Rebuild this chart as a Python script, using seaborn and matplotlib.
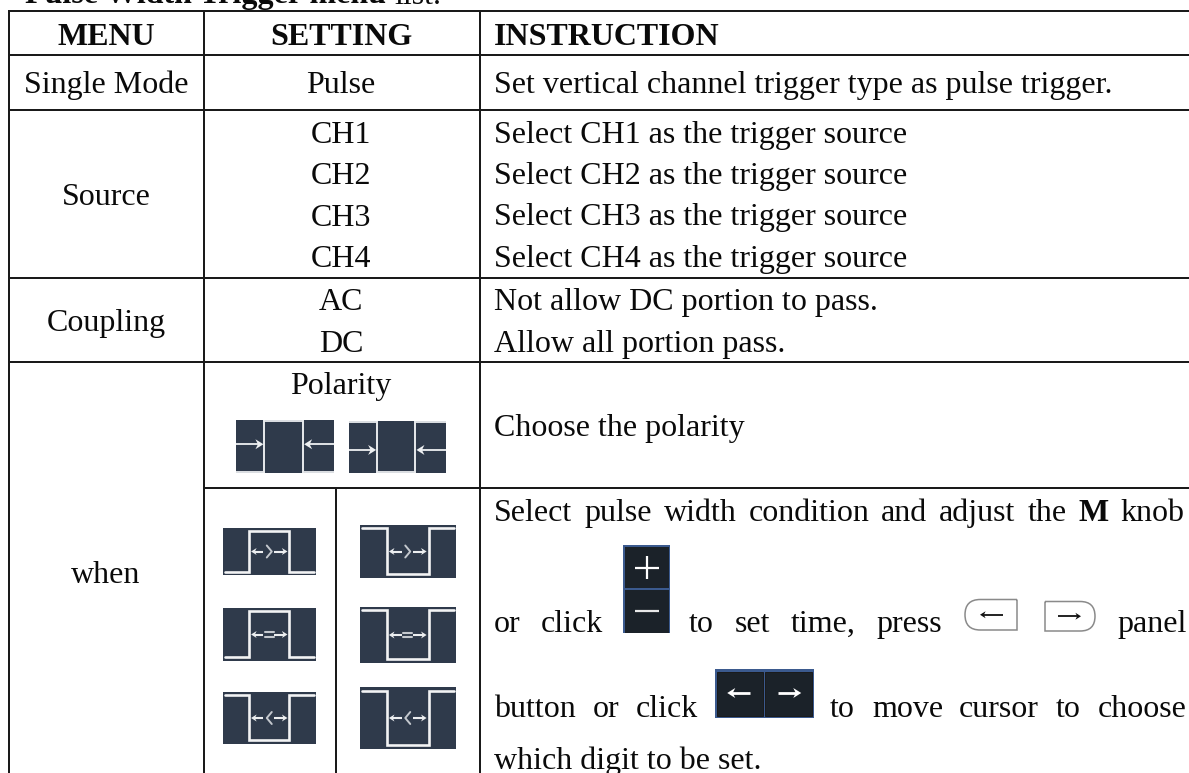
import matplotlib
matplotlib.use('Agg')
import matplotlib.pyplot as plt
import seaborn as sns
from matplotlib.patches import Rectangle, PathPatch, Polygon
from matplotlib.path import Path

# Table text
headers = ['MENU', 'SETTING', 'INSTRUCTION']
menu_items = ['Single Mode', 'Source', 'Coupling', 'when']
settings = ['Pulse', 'CH1', 'CH2', 'CH3', 'CH4', 'AC', 'DC', 'Polarity']
instructions = ['Set vertical channel trigger type as pulse trigger.',
                'Select CH1 as the trigger source',
                'Select CH2 as the trigger source',
                'Select CH3 as the trigger source',
                'Select CH4 as the trigger source',
                'Not allow DC portion to pass.',
                'Allow all portion pass.',
                'Choose the polarity']
title_bold = 'Pulse Width Trigger menu'
title_rest = 'list.'
line_select = ['Select', 'pulse', 'width', 'condition', 'and', 'adjust', 'the', 'M', 'knob']
line_click = ['or', 'click', 'to', 'set', 'time,', 'press', 'panel']
line_button = ['button', 'or', 'click', 'to', 'move', 'cursor', 'to', 'choose']
line_last = 'which digit to be set.'

sns.set_theme(style='white')
plt.rcParams['font.family'] = ['Liberation Serif', 'DejaVu Serif']

FS = 23
DARK = '#2f3a4b'
LIGHT = '#dfe2e6'
NAVY = '#1b2229'
EDGE = '#3b5a8e'

fig = plt.figure(figsize=(11.89, 7.73), dpi=100)
ax = fig.add_axes([0, 0, 1, 1])
ax.set_xlim(0, 1189)
ax.set_ylim(773, 0)
ax.axis('off')
renderer = fig.canvas.get_renderer()


def put(x, y, s, ha='left', weight='normal'):
    return ax.text(x, y, s, ha=ha, va='baseline', fontsize=FS, color='#0a0a0a', fontweight=weight)


def arrow(x0, x1, y, color, lw=1.4, head=3.5):
    d = 1 if x1 > x0 else -1
    ax.plot([x0, x1 - d * head], [y, y], color=color, lw=lw, solid_capstyle='butt')
    ax.add_patch(Polygon([(x1, y), (x1 - d * head * 1.6, y - head), (x1 - d * head * 1.1, y),
                          (x1 - d * head * 1.6, y + head)], closed=True, fc=color, ec='none'))


def polarity_icon(x0, x1, y0, y1, rising):
    w = x1 - x0
    a, b = x0 + w * 0.29, x0 + w * 0.685
    ax.add_patch(Rectangle((x0, y0), w, y1 - y0, fc=DARK, ec='none'))
    # light step lines: outer blocks and centre block sit on opposite edges
    outer = y1 - 1 if rising else y0 + 1
    inner = y0 + 1 if rising else y1 - 1
    ax.plot([x0, a], [outer, outer], color=LIGHT, lw=1.4, solid_capstyle='butt')
    ax.plot([b, x1], [outer, outer], color=LIGHT, lw=1.4, solid_capstyle='butt')
    ax.plot([a, b], [inner, inner], color=LIGHT, lw=1.4, solid_capstyle='butt')
    ax.plot([a, a], [y0, y1], color='#e8eaed', lw=1.4, solid_capstyle='butt')
    ax.plot([b, b], [y0, y1], color='#e8eaed', lw=1.4, solid_capstyle='butt')
    mid = y0 + (y1 - y0) * (0.46 if rising else 0.56)
    arrow(x0, a - 1, mid, '#eef0f2', lw=1.3, head=5)
    arrow(x1, b + 1, mid, '#eef0f2', lw=1.3, head=5)


def pulse_icon(x0, x1, y0, y1, positive, sign):
    w = x1 - x0
    a, b = x0 + w * 0.28, x0 + w * 0.715
    top, low = y0 + (y1 - y0) * 0.06, y1 - (y1 - y0) * 0.07
    outer, inner = (low, top) if positive else (top, low)
    ax.add_patch(Rectangle((x0, y0), w, y1 - y0, fc=DARK, ec='none'))
    ax.plot([x0 + 2, a, a, b, b, x1 - 2], [outer, outer, inner, inner, outer, outer],
            color='#f2f3f4', lw=1.9, solid_joinstyle='miter')
    mid = (y0 + y1) / 2
    c = (a + b) / 2
    arrow(c - 6, a + 2, mid, '#eceef0', lw=1.5, head=3.5)
    arrow(c + 5, b - 2, mid, '#eceef0', lw=1.5, head=3.5)
    if sign == '=':
        for dy in (-2.2, 2.2):
            ax.plot([c - 4.5, c + 4.5], [mid + dy, mid + dy], color='#c4c8ce', lw=1.5)
    else:
        d = 2.5 if sign == '>' else -2.5
        ax.plot([c - d, c + d, c - d], [mid - 6, mid, mid + 6], color='#c4c8ce', lw=1.4)


def plus_minus_icon(x0, x1, y0, ysplit, y1):
    ax.add_patch(Rectangle((x0, y0), x1 - x0, y1 - y0, fc=EDGE, ec='none'))
    ax.add_patch(Rectangle((x0 + 1.5, y0 + 2), x1 - x0 - 3, ysplit - y0 - 3, fc=NAVY, ec='none'))
    ax.add_patch(Rectangle((x0 + 1.5, ysplit + 1), x1 - x0 - 3, y1 - ysplit - 1, fc=NAVY, ec='none'))
    c = (x0 + x1) / 2
    ax.plot([c - 12, c + 12], [y0 + 23, y0 + 23], color='white', lw=1.6, solid_capstyle='butt')
    ax.plot([c, c], [y0 + 11, y0 + 34], color='white', lw=1.6, solid_capstyle='butt')
    ax.plot([c - 12, c + 12], [ysplit + 22, ysplit + 22], color='#e8e8e8', lw=1.6, solid_capstyle='butt')


def arrows_icon(x0, x1, y0, y1):
    ax.add_patch(Rectangle((x0, y0), x1 - x0, y1 - y0, fc=EDGE, ec='none'))
    m = (x0 + x1) / 2
    ax.add_patch(Rectangle((x0 + 2.5, y0 + 2.5), m - x0 - 3.5, y1 - y0 - 4.5, fc=NAVY, ec='k', lw=0.7))
    ax.add_patch(Rectangle((m + 1, y0 + 2.5), x1 - m - 3.5, y1 - y0 - 4.5, fc=NAVY, ec='k', lw=0.7))
    mid = y0 + 24
    arrow(m - 14, m - 37, mid, 'white', lw=2.0, head=5)
    arrow(m + 14, m + 37, mid, 'white', lw=2.0, head=5)


def panel_button(x0, x1, y0, y1, round_left):
    r = (y1 - y0) / 2
    if round_left:
        verts = [(x1, y0), (x0 + r, y0), (x0, y0), (x0, y0 + r), (x0, y1), (x0 + r, y1), (x1, y1), (x1, y0)]
        codes = [Path.MOVETO, Path.LINETO, Path.CURVE3, Path.CURVE3, Path.CURVE3, Path.CURVE3, Path.LINETO, Path.LINETO]
    else:
        verts = [(x0, y0), (x1 - r, y0), (x1, y0), (x1, y0 + r), (x1, y1), (x1 - r, y1), (x0, y1), (x0, y0)]
        codes = [Path.MOVETO, Path.LINETO, Path.CURVE3, Path.CURVE3, Path.CURVE3, Path.CURVE3, Path.LINETO, Path.LINETO]
    ax.add_patch(PathPatch(Path(verts, codes), fc='white', ec='#8a8a8a', lw=1.1))
    mid = (y0 + y1) / 2
    c = (x0 + x1) / 2
    if round_left:
        arrow(c + 12, c - 11, mid, '#111111', lw=1.3, head=3.5)
    else:
        arrow(c - 12, c + 11, mid, '#111111', lw=1.3, head=3.5)


# Grid lines
for y, x0 in zip([11, 54.5, 109.5, 278, 362, 488], [9, 9, 9, 9, 9, 203.5]):
    ax.plot([x0, 1189], [y, y], color='k', lw=1.44, solid_capstyle='butt')
for x, y0 in zip([9, 203.5, 479.5, 336], [10, 10, 10, 488]):
    ax.plot([x, x], [y0, 773], color='k', lw=1.44, solid_capstyle='butt')

# Title, clipped at the top of the page
t = put(25, 3.5, title_bold, weight='bold')
box = t.get_window_extent(renderer)
put(box.x1 + 8, 3.5, title_rest)

# Header row
for x, ha, s in zip([106, 341, 494], ['center', 'center', 'left'], headers):
    put(x, 45, s, ha=ha, weight='bold')

# Menu column
for y, s in zip([92.7, 205, 330.7, 582.7], menu_items):
    put(106, y, s, ha='center')

# Setting column
for y, s in zip([92.7, 142.7, 183.7, 225.5, 267.3, 309.7, 351.7, 394], settings):
    put(341, y, s, ha='center')

# Instruction column
for y, s in zip([92.7, 142.7, 183.7, 225.5, 267.3, 309.7, 351.7, 436], instructions):
    put(494, y, s)

# Justified paragraph, one word at a time
widths = []
for w in line_select:
    tmp = put(0, 0, w, weight='bold' if w == 'M' else 'normal')
    widths.append(tmp.get_window_extent(renderer).width)
    tmp.remove()
gap = (1184.5 - 494 - sum(widths)) / (len(line_select) - 1)
x = 494
for w, width in zip(line_select, widths):
    put(x, 520.7, w, weight='bold' if w == 'M' else 'normal')
    x += width + gap
for x, w in zip([494, 541, 689, 735, 791, 876, 1117], line_click):
    put(x, 632, w)
for x, w in zip([494, 593, 636, 830, 872, 959, 1056, 1097.5], line_button):
    put(x, 716.7, w)
put(494, 769, line_last)

# Polarity icons
polarity_icon(236, 334, 420, 472.7, True)
polarity_icon(349, 446, 421, 472.7, False)

# Pulse width condition icons
for (y0, y1), positive, sign in zip([(528, 575), (608, 661), (692, 744)], [True, True, False], ['>', '=', '<']):
    pulse_icon(223, 316, y0, y1, positive, sign)
for (y0, y1), sign in zip([(525, 578), (607, 663), (687, 749)], ['>', '=', '<']):
    pulse_icon(360, 456, y0, y1, False, sign)

# Inline button icons
plus_minus_icon(623, 670, 545, 589, 633)
arrows_icon(714.5, 814, 669, 718)
panel_button(965, 1017, 599.5, 630, True)
panel_button(1045, 1095, 601.5, 631, False)

fig.savefig('out.png', dpi=100)
